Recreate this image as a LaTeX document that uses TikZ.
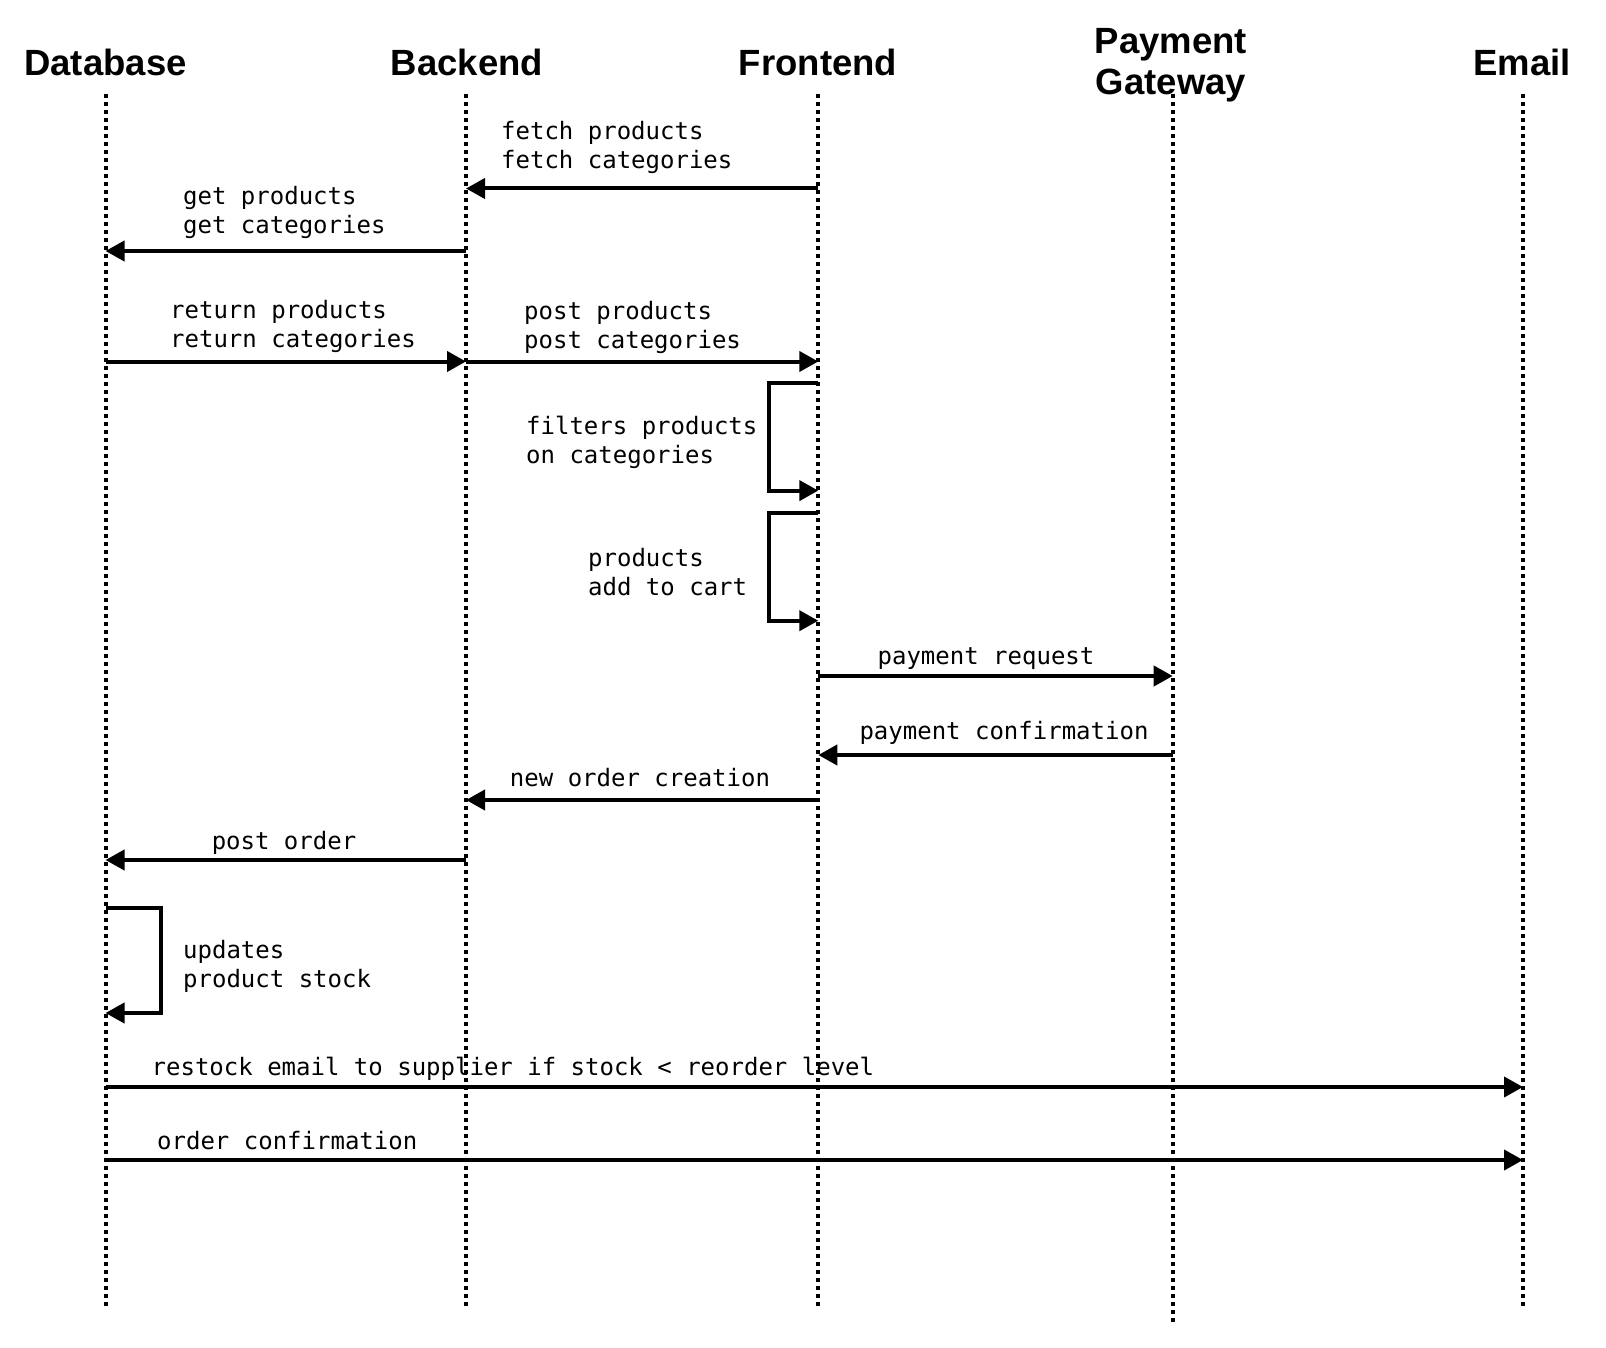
\documentclass[tikz,border=0pt]{standalone}
\usepackage{fontspec}
\setmainfont{Liberation Sans}
\setmonofont{DejaVu Sans Mono}
\usetikzlibrary{arrows.meta, positioning, calc}

\tikzset{
  actor/.style={font=\fontsize{36.5}{41}\selectfont\bfseries, align=center, inner sep=0pt},
  lifeline/.style={line width=4pt, dash pattern=on 4pt off 4pt},
  msg/.style={line width=4pt, -{Triangle[length=19pt,width=20pt]}},
  msgtext/.style={font=\fontsize{24}{28.7}\selectfont\ttfamily, align=left, anchor=west, inner sep=0pt},
}

\begin{document}
\begin{tikzpicture}[x=1pt, y=-1pt]
\useasboundingbox (0,0) rectangle (1606,1348);

% Actors
\node[actor] (db) at (105.5, 62) {Database};
\node[actor] (be) at (467, 62) {Backend};
\node[actor] (fe) at (818, 62) {Frontend};
\node[actor] (pg) at (1171, 65.5) {Payment\\Gateway};
\node[actor] (em) at (1522, 62) {Email};

% Lifelines
\coordinate (dbt) at (105.5, 94);  \coordinate (dbb) at (105.5, 1309);
\coordinate (bet) at (466, 94);    \coordinate (beb) at (466, 1309);
\coordinate (fet) at (818.3, 94);  \coordinate (feb) at (818.3, 1309);
\coordinate (pgt) at (1172.7, 94); \coordinate (pgb) at (1172.7, 1324);
\coordinate (emt) at (1523, 94);   \coordinate (emb) at (1523, 1309);
\draw[lifeline] (dbt) -- (dbb);
\draw[lifeline] (bet) -- (beb);
\draw[lifeline] (fet) -- (feb);
\draw[lifeline] (pgt) -- (pgb);
\draw[lifeline] (emt) -- (emb);

% Fetch
\coordinate (m1) at (0, 188.5);
\draw[msg] (fet |- m1) -- (bet |- m1);
\node[msgtext] (t1) at (501, 147.5) {fetch products\\fetch categories};

\coordinate (m2) at (0, 251);
\draw[msg] (bet |- m2) -- (dbt |- m2);
\node[msgtext] (t2) at (183, 212.5) {get products\\get categories};

% Return
\coordinate (m3) at (0, 361.5);
\draw[msg] (dbt |- m3) -- (bet |- m3);
\node[msgtext] (t3) at (170, 326.5) {return products\\return categories};

\draw[msg] (bet |- m3) -- (fet |- m3);
\node[msgtext] (t4) at (524, 327.5) {post products\\post categories};

% Frontend self calls
\coordinate (m5a) at (0, 383);
\coordinate (m5b) at (0, 490.6);
\draw[msg] (fet |- m5a) -- ++(-49, 0) |- (fet |- m5b);
\node[msgtext] (t5) at (526, 442.5) {filters products\\on categories};

\coordinate (m6a) at (0, 513);
\coordinate (m6b) at (0, 620.7);
\draw[msg] (fet |- m6a) -- ++(-49, 0) |- (fet |- m6b);
\node[msgtext] (t6) at (588, 572) {products\\add to cart};

% Payment
\coordinate (m7) at (0, 676);
\draw[msg] (fet |- m7) -- (pgt |- m7);
\node[msgtext, anchor=center] (t7) at (986, 658.5) {payment request};

\coordinate (m8) at (0, 755);
\draw[msg] (pgt |- m8) -- (fet |- m8);
\node[msgtext, anchor=center] (t8) at (1004, 733) {payment confirmation};

% Order
\coordinate (m9) at (0, 800);
\draw[msg] (fet |- m9) -- (bet |- m9);
\node[msgtext, anchor=center] (t9) at (640, 778) {new order creation};

\coordinate (m10) at (0, 860);
\draw[msg] (bet |- m10) -- (dbt |- m10);
\node[msgtext, anchor=center] (t10) at (284, 843) {post order};

% Database self call
\coordinate (m11a) at (0, 907.5);
\coordinate (m11b) at (0, 1013);
\draw[msg] (dbt |- m11a) -- ++(55, 0) |- (dbt |- m11b);
\node[msgtext] (t11) at (183, 966.5) {updates\\product stock};

% Emails
\coordinate (m12) at (0, 1087);
\draw[msg] (dbt |- m12) -- (emt |- m12);
\node[msgtext] (t12) at (151.5, 1069) {restock email to supplier if stock < reorder level};

\coordinate (m13) at (0, 1160);
\draw[msg] (dbt |- m13) -- (emt |- m13);
\node[msgtext] (t13) at (157, 1140.5) {order confirmation};
\end{tikzpicture}
\end{document}
